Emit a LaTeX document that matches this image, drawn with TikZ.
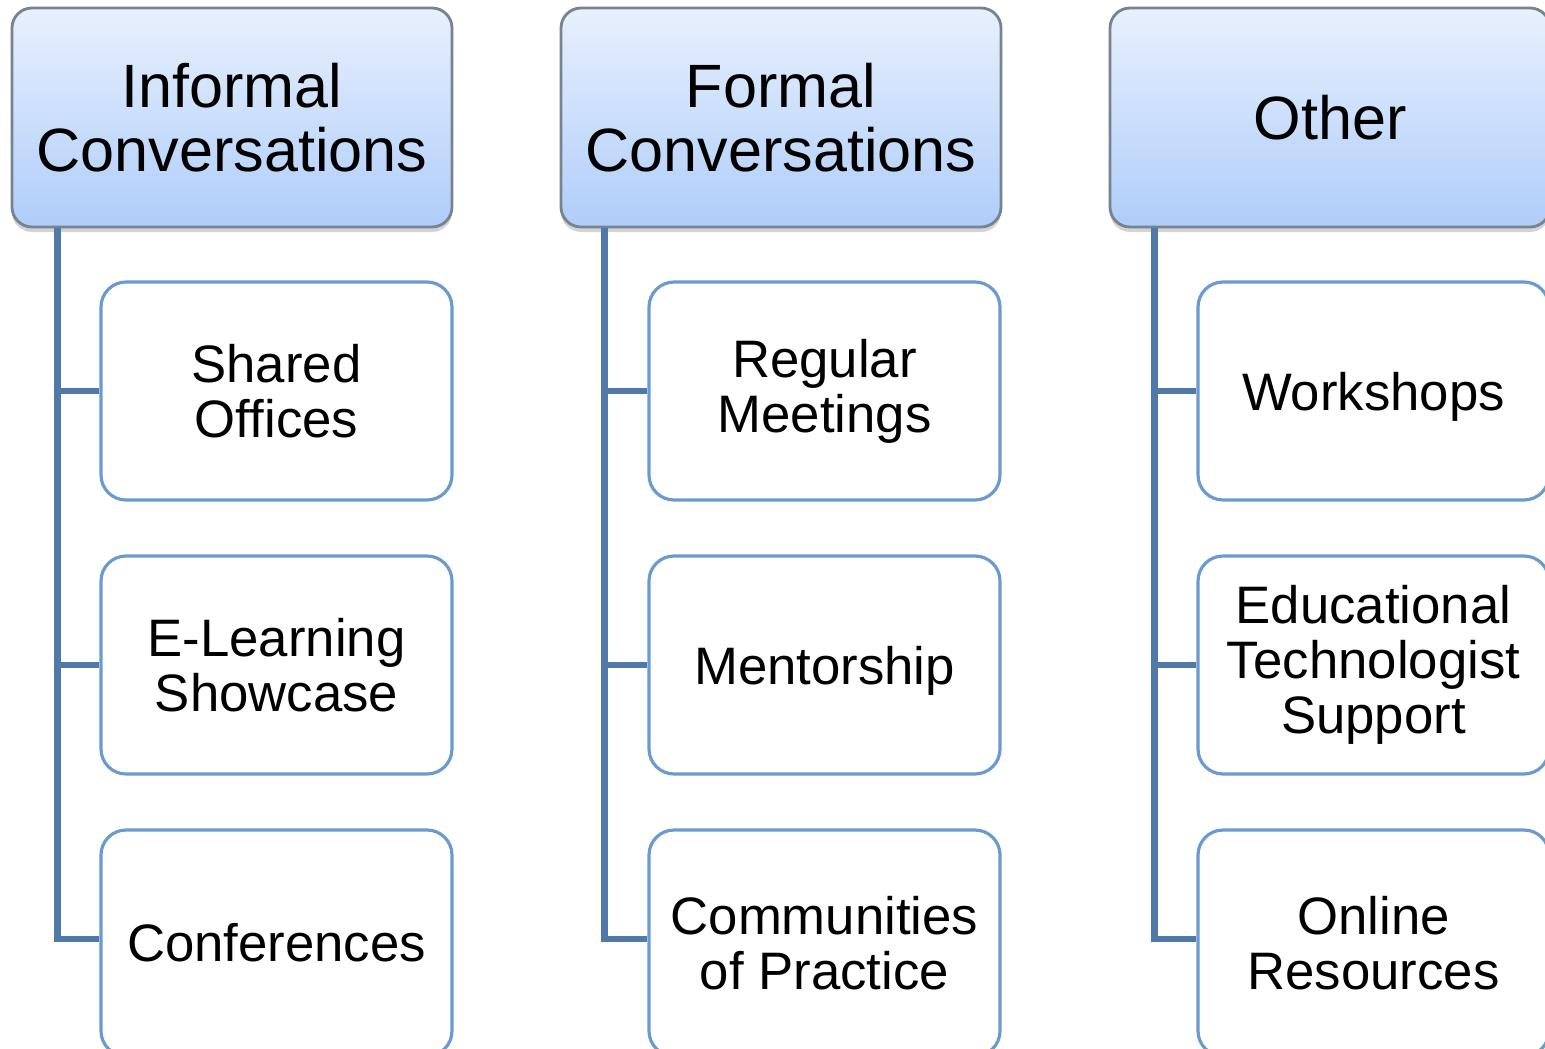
\documentclass[tikz,border=0pt]{standalone}
\usepackage{fontspec}
\setmainfont{Liberation Sans}
\usepackage{xcolor}
\usepackage{tikz}
\usetikzlibrary{positioning,shadows}
\definecolor{headtop}{HTML}{E8F0FD}
\definecolor{headbot}{HTML}{AFCDFA}
\definecolor{headline}{HTML}{77838F}
\definecolor{itemline}{HTML}{6A9AD0}
\definecolor{linkblue}{HTML}{5079AA}
\tikzset{
	head/.style={draw=headline,line width=0.8pt,rounded corners=2mm,top color=headtop,bottom color=headbot,
		minimum width=4.4cm,minimum height=2.19cm,align=center,inner sep=0pt,
		font=\fontsize{17.4}{18.3}\selectfont,
		drop shadow={opacity=0.35,shadow xshift=0mm,shadow yshift=-0.5mm}},
	item/.style={draw=itemline,line width=0.9pt,rounded corners=2.5mm,fill=white,
		minimum width=3.51cm,minimum height=2.18cm,align=center,inner sep=0pt,
		font=\fontsize{15}{15.7}\selectfont},
	lastitem/.style={item,minimum height=2.26cm},
	link/.style={draw=linkblue,line width=1.8pt}
}
\begin{document}
\begin{tikzpicture}
	\useasboundingbox (0,0) rectangle (15.45,-10.48);
	\clip (0,0) rectangle (15.45,-10.48);
	% headers
	\node[head] (inf) at (2.32,-1.175) {Informal\\Conversations};
	\node[head] (frm) at (7.81,-1.175) {Formal\\Conversations};
	\node[head] (oth) at (13.30,-1.175) {Other};
	% informal
	\node[item] (shared) at (2.765,-3.91) {Shared\\Offices};
	\node[item] (elearn) at (2.765,-6.65) {E-Learning\\Showcase};
	\node[lastitem] (conf) at (2.765,-9.43) {Conferences};
	% formal
	\node[item] (meet) at (8.245,-3.91) {Regular\\Meetings};
	\node[item,text depth=0pt] (mentor) at (8.245,-6.65) {Mentorship};
	\node[lastitem] (cop) at (8.245,-9.43) {Communities\\of Practice};
	% other
	\node[item,text depth=0pt] (work) at (13.735,-3.91) {Workshops};
	\node[item] (edtech) at (13.735,-6.65) {Educational\\Technologist\\Support};
	\node[lastitem] (online) at (13.735,-9.43) {Online\\Resources};
	% links
	\draw[link] ([xshift=4.7mm]inf.south west) |- (shared.west);
	\draw[link] ([xshift=4.7mm]inf.south west) |- (elearn.west);
	\draw[link] ([xshift=4.7mm]inf.south west) |- ([yshift=0.4mm]conf.west);
	\draw[link] ([xshift=4.5mm]frm.south west) |- (meet.west);
	\draw[link] ([xshift=4.5mm]frm.south west) |- (mentor.west);
	\draw[link] ([xshift=4.5mm]frm.south west) |- ([yshift=0.4mm]cop.west);
	\draw[link] ([xshift=4.6mm]oth.south west) |- (work.west);
	\draw[link] ([xshift=4.6mm]oth.south west) |- (edtech.west);
	\draw[link] ([xshift=4.6mm]oth.south west) |- ([yshift=0.4mm]online.west);
\end{tikzpicture}
\end{document}
